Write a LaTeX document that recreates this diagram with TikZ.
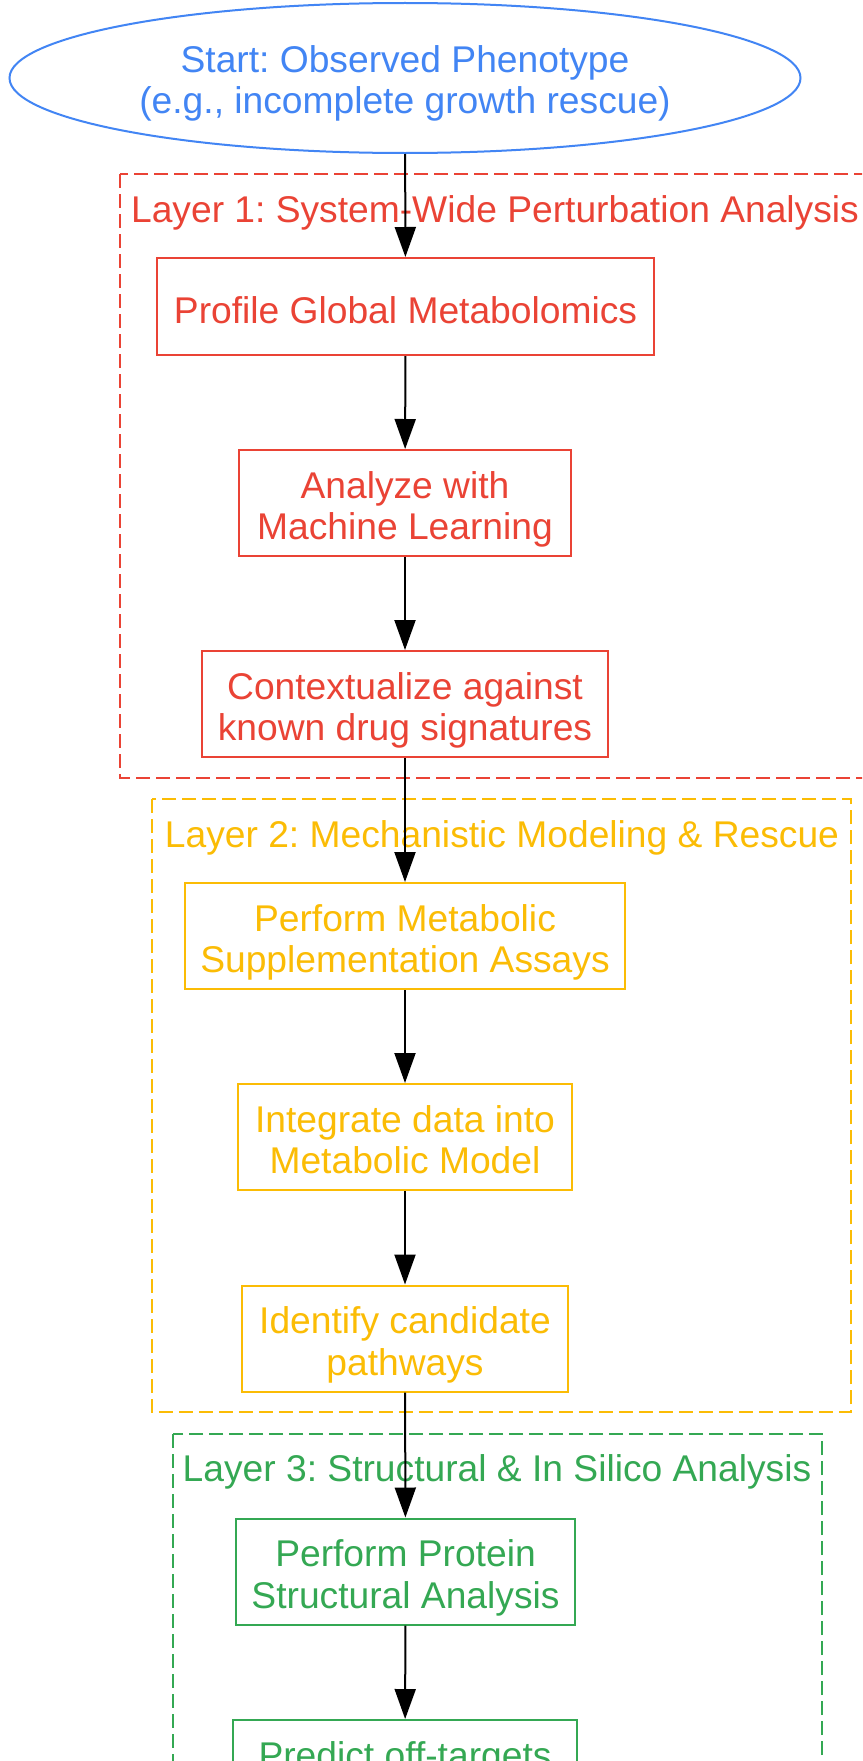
\documentclass[tikz,border=0pt]{standalone}
\usepackage{fontspec}
\setmainfont{Liberation Sans}
\frenchspacing
\usetikzlibrary{shapes.geometric,arrows.meta}
\definecolor{gblue}{HTML}{4285F4}
\definecolor{gred}{HTML}{EA4335}
\definecolor{gyellow}{HTML}{FBBC05}
\definecolor{ggreen}{HTML}{34A853}
\newcommand{\tx}[2][7.5pt]{\raisebox{-#1}[\height][\depth]{\begin{tabular}{@{}c@{}}#2\end{tabular}}}
\tikzset{
  lbl/.style={font=\fontsize{37.2}{41.5}\selectfont},
  stepbox/.style={lbl, draw, rectangle, line width=2pt, inner sep=0pt, minimum height=106pt},
  cluster/.style={dash pattern=on 14pt off 6pt, line width=2pt},
  flow/.style={-{Triangle[length=30pt,width=21pt]}, line width=2pt, black},
}
\begin{document}
\begin{tikzpicture}[x=1pt,y=-1pt]
\path[use as bounding box, clip] (0,0) rectangle (862,1761);
\fill[white] (0,0) rectangle (862,1761);
% clusters
\draw[cluster, gred] (120,174) rectangle (870,778);
\draw[cluster, gyellow] (152,799) rectangle (851,1412);
\draw[cluster, ggreen] (173,1434) rectangle (822,1900);
\node[lbl, text=gred] (l1) at (495,212.5) {Layer 1: System-Wide Perturbation Analysis};
\node[lbl, text=gyellow] (l2) at (502,837.5) {Layer 2: Mechanistic Modeling \& Rescue};
\node[lbl, text=ggreen] (l3) at (497,1471.5) {Layer 3: Structural \& In Silico Analysis};
% nodes
\node[lbl, draw=gblue, text=gblue, ellipse, line width=2pt, inner sep=0pt, minimum width=791pt, minimum height=150pt] (start) at (405,78) {\tx[6.5pt]{Start: Observed Phenotype\\(e.g., incomplete growth rescue)}};
\node[stepbox, draw=gred, text=gred, minimum width=497pt, minimum height=97pt] (n1) at (405.5,306.5) {\tx[9pt]{Profile Global Metabolomics}};
\node[stepbox, draw=gred, text=gred, minimum width=332pt] (n2) at (405,503) {\tx{Analyze with\\Machine Learning}};
\node[stepbox, draw=gred, text=gred, minimum width=406pt] (n3) at (405,704) {\tx{Contextualize against\\known drug signatures}};
\node[stepbox, draw=gyellow, text=gyellow, minimum width=440pt] (n4) at (405,936) {\tx{Perform Metabolic\\Supplementation Assays}};
\node[stepbox, draw=gyellow, text=gyellow, minimum width=334pt] (n5) at (405,1137) {\tx{Integrate data into\\Metabolic Model}};
\node[stepbox, draw=gyellow, text=gyellow, minimum width=326pt] (n6) at (405,1338.5) {\tx{Identify candidate\\pathways}};
\node[stepbox, draw=ggreen, text=ggreen, minimum width=339pt] (n7) at (405.5,1571.5) {\tx{Perform Protein\\Structural Analysis}};
\node[stepbox, draw=ggreen, text=ggreen, minimum width=344pt] (n8) at (405,1773) {\tx{Predict off-targets\\\phantom{x}}};
% edges
\draw[flow] (start) -- (n1);
\draw[flow] (n1) -- (n2);
\draw[flow] (n2) -- (n3);
\draw[flow] (n3) -- (n4);
\draw[flow] (n4) -- (n5);
\draw[flow] (n5) -- (n6);
\draw[flow] (n6) -- (n7);
\draw[flow] (n7) -- (n8);
\end{tikzpicture}
\end{document}
